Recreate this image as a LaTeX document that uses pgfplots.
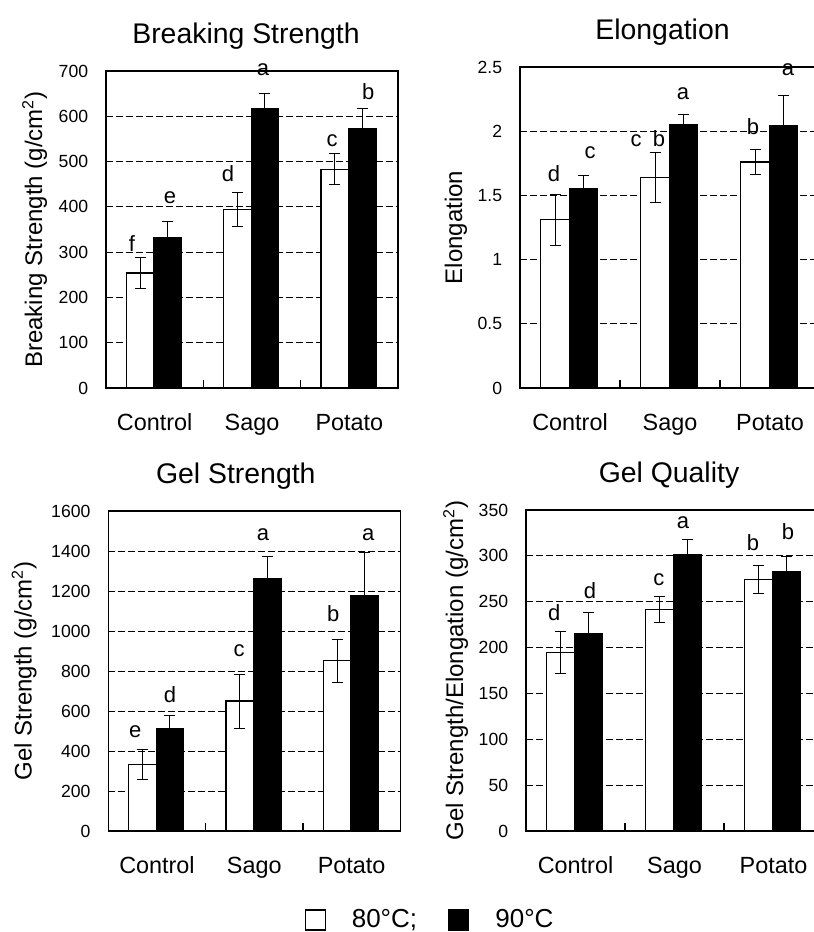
\documentclass[border=0pt]{standalone}
\usepackage{fontspec}
\setmainfont{Liberation Sans}
\usepackage{pgfplots}
\pgfplotsset{compat=1.18}

\pgfplotsset{
  panel/.style={
    scale only axis,
    anchor=south west,
    xmin=0.5, xmax=3.5,
    ymin=0,
    xtick={1,2,3},
    xticklabels={Control,Sago,Potato},
    minor xtick={1.5,2.5},
    major tick length=0pt,
    minor tick length=4pt,
    tick align=inside,
    tick pos=left,
    axis line style={line width=0.75pt},
    minor tick style={line width=0.75pt, black},
    ymajorgrids,
    grid style={black, line width=0.5pt, dash pattern=on 3.3pt off 1.7pt},
    scaled y ticks=false,
    clip=false,
    /pgf/number format/assume math mode=true,
    /pgf/number format/1000 sep={},
    yticklabel style={font=\fontsize{8.8}{10}\selectfont, inner sep=0pt, xshift=-8.75pt},
    xticklabel style={font=\fontsize{11.7}{14}\selectfont, anchor=base, yshift=-21pt},
    every axis title/.style={at={(0.5,1)}, anchor=base, yshift=14pt,
      font=\fontsize{14.2}{17}\selectfont},
  },
  ylab/.style={every axis y label/.style={at={(rel axis cs:0,0.5)}, xshift=-#1,
      rotate=90, anchor=base, font=\fontsize{12}{14}\selectfont}},
  white bar/.style={ybar, bar width=0.283, bar shift=0pt, draw=black, fill=white,
    line width=0.6pt,
    legend image code/.code={\draw[black, fill=white, line width=0.6pt] (0pt,-5pt) rectangle (10pt,5pt);},
    error bars/.cd, y dir=both, y explicit,
    error bar style={line width=0.5pt, black},
    error mark options={rotate=90, black, mark size=2.75pt, line width=0.5pt}},
  black bar/.style={ybar, bar width=0.283, bar shift=0pt, draw=black, fill=black,
    line width=0.6pt,
    legend image code/.code={\draw[black, fill=black, line width=0.6pt] (0pt,-5pt) rectangle (10pt,5pt);},
    error bars/.cd, y dir=both, y explicit,
    error bar style={line width=0.5pt, black},
    error mark options={rotate=90, black, mark size=2.75pt, line width=0.5pt}},
  letters/.style={draw=none, mark=none, nodes near coords, point meta=explicit symbolic,
    every node near coord/.append style={font=\fontsize{11}{12}\selectfont, inner sep=0pt, anchor=south}},
}

\begin{document}
\begin{tikzpicture}

% Breaking Strength
\begin{axis}[panel, at={(53pt,-194pt)}, width=146pt, height=158.5pt,
  ymax=700, ytick={0,100,200,300,400,500,600,700},
  title={Breaking Strength}, title style={xshift=-3pt},
  ylab=32pt, ylabel={Breaking Strength (g/cm\textsuperscript{2})}]
\addplot[white bar] table[x=x,y=y,y error=e]{
x y e
0.85 254 35
1.85 394 38
2.85 483 34
};
\addplot[black bar] table[x=x,y=y,y error=e]{
x y e
1.133 333 34
2.133 618 33
3.133 573 44
};
\addplot[letters] coordinates {
(0.767,301) [f] (1.158,406) [e] (1.754,455) [d]
(2.114,689) [a] (2.823,533) [c] (3.193,636) [b]};
\end{axis}

% Elongation
\begin{axis}[panel, at={(260pt,-194pt)}, width=150pt, height=160.5pt,
  ymax=2.5, ytick={0,0.5,1,1.5,2,2.5},
  title={Elongation}, title style={xshift=-3.75pt},
  ylab=29pt, ylabel={Elongation}]
\addplot[white bar] table[x=x,y=y,y error=e]{
x y e
0.85 1.31 0.2
1.85 1.64 0.195
2.85 1.76 0.1
};
\addplot[black bar] table[x=x,y=y,y error=e]{
x y e
1.133 1.55 0.105
2.133 2.05 0.083
3.133 2.04 0.24
};
\addplot[letters] coordinates {
(0.84,1.604) [d] (1.2,1.786) [c] (1.66,1.877) [c] (1.89,1.877) [b]
(2.13,2.246) [a] (2.83,1.968) [b] (3.18,2.427) [a]};
\end{axis}

% Gel Strength
\begin{axis}[panel, at={(54.15pt,-415.5pt)}, width=146pt, height=160pt,
  ymax=1600, ytick={0,200,400,600,800,1000,1200,1400,1600},
  title={Gel Strength}, title style={xshift=-9.25pt},
  ylab=38.3pt, ylabel={Gel Strength (g/cm\textsuperscript{2})},
  legend columns=2,
  legend style={at={(rel axis cs:0.671,-0.278)}, anchor=west, draw=none, fill=none,
    inner sep=0pt, font=\fontsize{13}{15}\selectfont,
    /tikz/every odd column/.append style={column sep=11pt},
    /tikz/every even column/.append style={column sep=13.5pt}}]
\addplot[white bar] table[x=x,y=y,y error=e]{
x y e
0.85 332 75
1.85 650 135
2.85 852 108
};
\addplot[black bar] table[x=x,y=y,y error=e]{
x y e
1.133 510 67
2.133 1263 108
3.133 1178 213
};
\addplot[letters] coordinates {
(0.776,462) [e] (1.134,637) [d] (1.843,868) [c]
(2.09,1451) [a] (2.81,1044) [b] (3.17,1451) [a]};
\legend{80°C;,90°C}
\end{axis}

% Gel Quality
\begin{axis}[panel, at={(263pt,-415.5pt)}, width=148.5pt, height=160.5pt,
  ymax=350, ytick={0,50,100,150,200,250,300,350},
  title={Gel Quality}, title style={xshift=-2.75pt},
  ylab=31.5pt, ylabel={Gel Strength/Elongation (g/cm\textsuperscript{2})}]
\addplot[white bar] table[x=x,y=y,y error=e]{
x y e
0.85 194.6 23
1.85 241.6 14
2.85 274 15
};
\addplot[black bar] table[x=x,y=y,y error=e]{
x y e
1.133 215 23
2.133 301 17
3.133 283 16
};
\addplot[letters] coordinates {
(0.786,228.5) [d] (1.146,252.9) [d] (1.843,266.7) [c]
(2.086,329.3) [a] (2.793,304.9) [b] (3.146,317.6) [b]};
\end{axis}

\pgfresetboundingbox
\useasboundingbox (0,0) rectangle (407pt,-466pt);
\end{tikzpicture}
\end{document}
